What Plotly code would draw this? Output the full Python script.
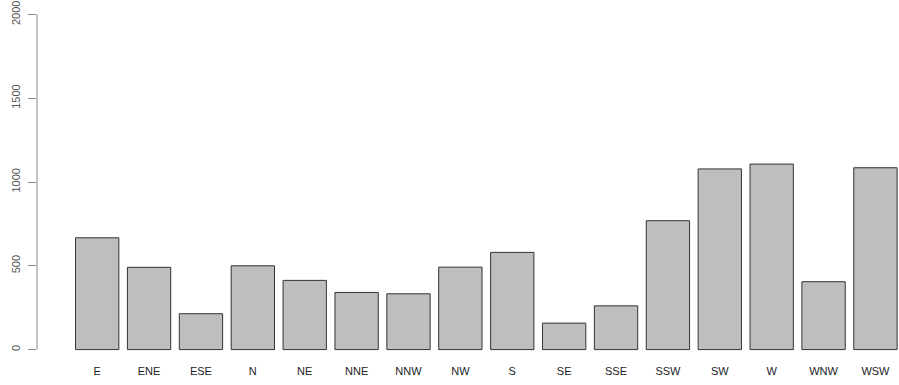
import plotly.graph_objects as go

# Wind direction counts
directions = ["E", "ENE", "ESE", "N", "NE", "NNE", "NNW", "NW",
              "S", "SE", "SSE", "SSW", "SW", "W", "WNW", "WSW"]
counts = [667, 491, 214, 500, 413, 341, 333, 492,
          580, 158, 261, 769, 1078, 1107, 405, 1085]

y_ticks = [0, 500, 1000, 1500, 2000]

fig = go.Figure(
    go.Bar(
        x=directions,
        y=counts,
        marker=dict(color="#bebebe", line=dict(color="#333333", width=1)),
        hoverinfo="x+y",
    )
)

fig.update_layout(
    width=899,
    height=385,
    margin=dict(l=37, r=0, t=1, b=22),
    paper_bgcolor="white",
    plot_bgcolor="white",
    bargap=0.165,
    showlegend=False,
    font=dict(family="Liberation Sans, Arial, sans-serif", size=11, color="#333333"),
)

fig.update_xaxes(
    type="category",
    range=[-1.16, 15.454],
    showline=False,
    showgrid=False,
    zeroline=False,
    ticks="",
    tickfont=dict(size=11, color="#222222"),
)

fig.update_yaxes(
    range=[-80, 2080],
    tickvals=y_ticks,
    ticktext=[str(v) for v in y_ticks],
    tickangle=-90,
    ticks="outside",
    ticklen=8,
    tickwidth=1,
    tickcolor="#888888",
    ticklabelstandoff=4,
    showline=False,
    showgrid=False,
    zeroline=False,
    tickfont=dict(size=11, color="#555555"),
)

# R-style axis line spanning only the tick range
fig.add_shape(
    type="line",
    xref="paper", yref="y",
    x0=0, x1=0, y0=y_ticks[0], y1=y_ticks[-1],
    line=dict(color="#888888", width=1),
)

fig.write_html("out.html")
